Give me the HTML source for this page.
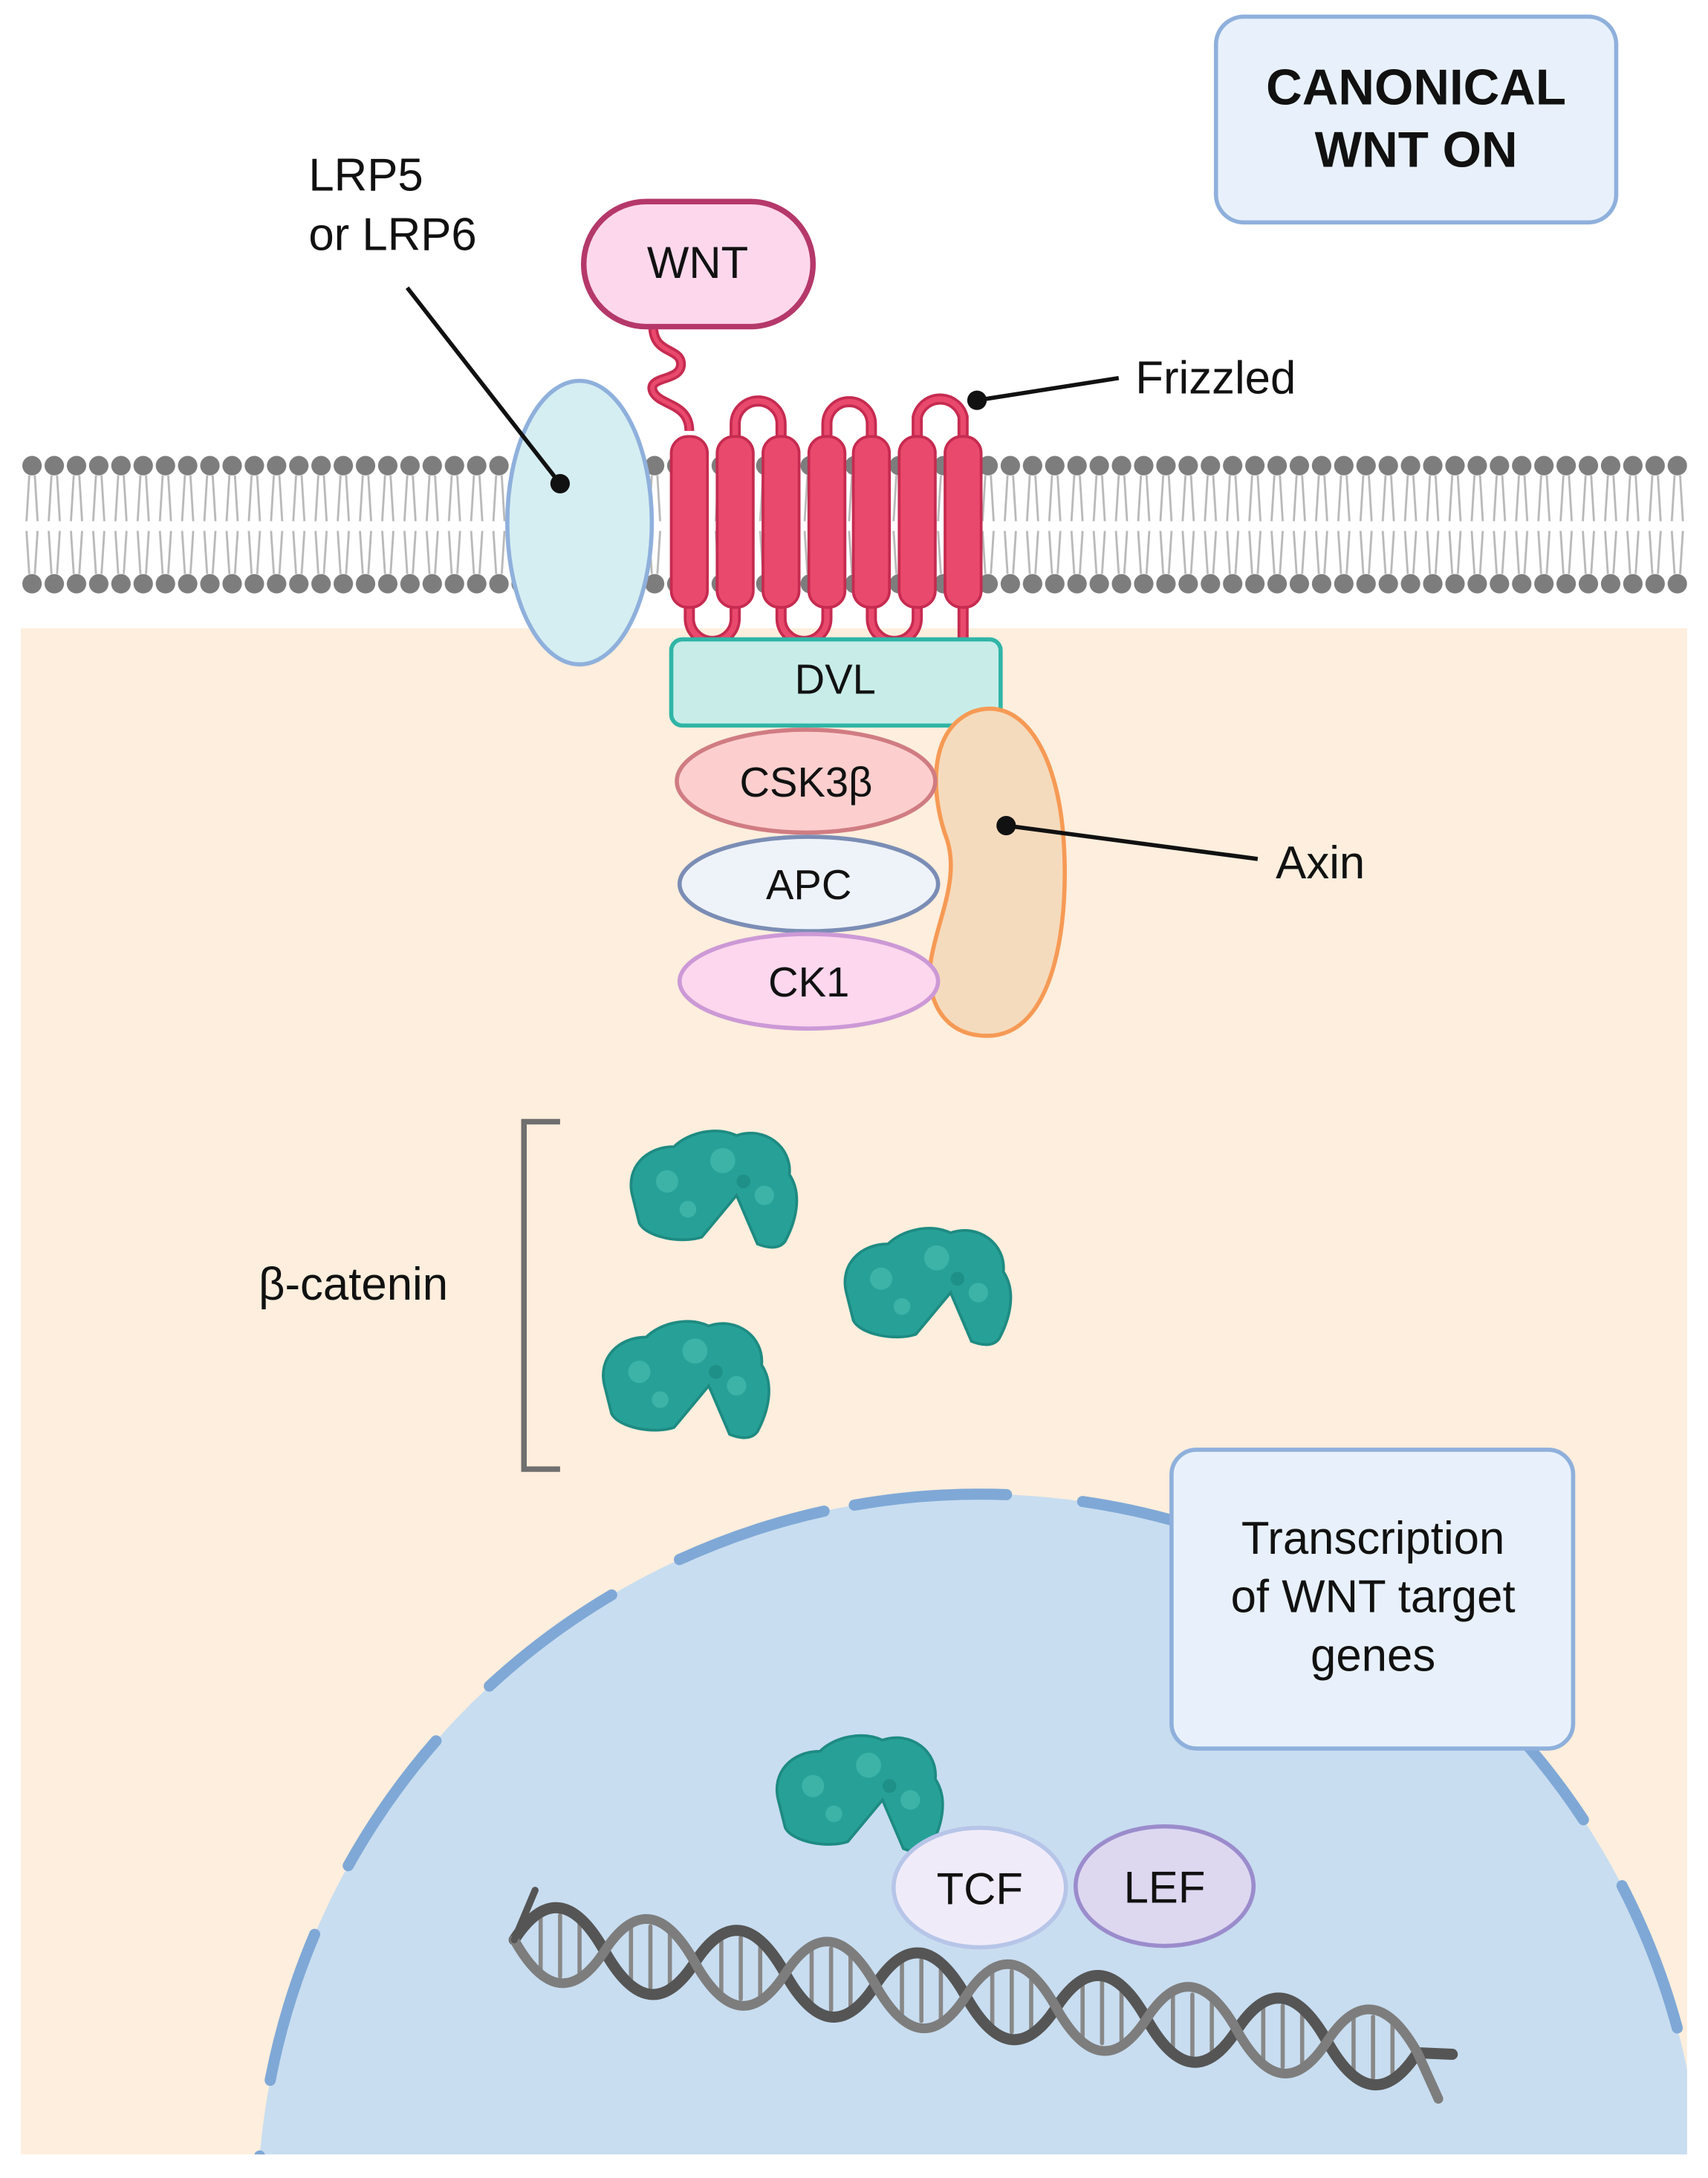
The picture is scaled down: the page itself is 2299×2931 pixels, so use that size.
<!DOCTYPE html>
<html><head><meta charset="utf-8"><style>
html,body{margin:0;padding:0;background:#fff;overflow:hidden;width:2299px;height:2931px}
svg{display:block}
text{font-family:"Liberation Sans",Arial,sans-serif;fill:#111}
</style></head><body>
<svg width="2299" height="2931" viewBox="0 0 1229 1567" xmlns="http://www.w3.org/2000/svg">
<defs>
<clipPath id="cyto"><rect x="15" y="452" width="1199" height="1098"/></clipPath>
<pattern id="mem" x="15" y="0" width="16" height="1567" patternUnits="userSpaceOnUse">
<circle cx="8" cy="335" r="7" fill="#7d7d7d"/>
<circle cx="8" cy="420" r="7" fill="#7d7d7d"/>
<path d="M6 342 L4 375 M10 342 L12 375 M4 382 L6 413 M12 382 L10 413" stroke="#b8b8b8" stroke-width="1.5" fill="none"/>
</pattern>
<g id="cat">
<path d="M-55 5 C-60 -15 -45 -30 -25 -30 C-15 -40 5 -45 20 -38 C40 -45 60 -30 58 -10 C68 5 62 25 55 38 C50 45 40 42 35 40 L20 5 L-5 35 C-20 40 -45 35 -50 25 Z" fill="#27a197" stroke="#1e8b82" stroke-width="2"/>
<circle cx="-30" cy="-5" r="8" fill="#3db3a8"/><circle cx="10" cy="-20" r="9" fill="#3db3a8"/><circle cx="40" cy="5" r="7" fill="#3db3a8"/><circle cx="-15" cy="15" r="6" fill="#3db3a8"/><circle cx="25" cy="-5" r="5" fill="#1f9088"/>
</g>
</defs>
<rect x="15" y="452" width="1199" height="1098" fill="#fdeedd"/>
<rect x="15" y="320" width="1199" height="110" fill="url(#mem)"/>
<g clip-path="url(#cyto)">
<circle cx="705" cy="1595" r="520" fill="#c8ddf0"/>
<circle cx="705" cy="1595" r="520" fill="none" stroke="#7fa8d6" stroke-width="8" stroke-dasharray="110 55" stroke-linecap="round" transform="rotate(-100 705 1595)"/>
</g>
<rect x="875" y="12" width="288" height="148" rx="20" fill="#e8f1fb" stroke="#8fb0dc" stroke-width="3"/>
<text x="1019" y="75" font-size="36" font-weight="bold" text-anchor="middle">CANONICAL</text>
<text x="1019" y="120" font-size="36" font-weight="bold" text-anchor="middle">WNT ON</text>
<text x="222" y="137" font-size="33">LRP5</text>
<text x="222" y="180" font-size="33">or LRP6</text>
<ellipse cx="417" cy="376" rx="52" ry="102" fill="#d5eef2" stroke="#8fb0dc" stroke-width="3"/>
<line x1="293" y1="207" x2="403" y2="348" stroke="#111" stroke-width="3"/>
<circle cx="403" cy="348" r="7" fill="#111"/>
<path d="M470 235 C470 255 490 250 490 262 C490 275 465 270 470 282 C475 292 496 290 496 310" fill="none" stroke="#c62b50" stroke-width="7"/>
<path d="M470 235 C470 255 490 250 490 262 C490 275 465 270 470 282 C475 292 496 290 496 310" fill="none" stroke="#e9496c" stroke-width="3"/>
<rect x="420" y="145" width="165" height="90" rx="45" fill="#fdd8ec" stroke="#b5386a" stroke-width="4"/>
<text x="502" y="200" font-size="32" text-anchor="middle">WNT</text>
<g fill="none" stroke="#c62b50" stroke-width="8">
<path d="M529 315 V305 A16 16 0 0 1 562 305 V315"/><path d="M595 315 V305 A16 16 0 0 1 627 305 V315"/><path d="M660 315 V300 A17 17 0 0 1 693 300 V315"/>
<path d="M496 435 V445 A16 16 0 0 0 529 445 V435"/><path d="M562 435 V445 A16 16 0 0 0 595 445 V435"/><path d="M627 435 V445 A16 16 0 0 0 660 445 V435"/><path d="M693 435 V462"/>
</g>
<g fill="none" stroke="#e9496c" stroke-width="4">
<path d="M529 315 V305 A16 16 0 0 1 562 305 V315"/><path d="M595 315 V305 A16 16 0 0 1 627 305 V315"/><path d="M660 315 V300 A17 17 0 0 1 693 300 V315"/>
<path d="M496 435 V445 A16 16 0 0 0 529 445 V435"/><path d="M562 435 V445 A16 16 0 0 0 595 445 V435"/><path d="M627 435 V445 A16 16 0 0 0 660 445 V435"/><path d="M693 435 V462"/>
</g>
<g fill="#e9496c" stroke="#c62b50" stroke-width="2">
<rect x="483" y="314" width="26" height="123" rx="12"/><rect x="516" y="314" width="26" height="123" rx="12"/><rect x="549" y="314" width="26" height="123" rx="12"/><rect x="582" y="314" width="26" height="123" rx="12"/><rect x="614" y="314" width="26" height="123" rx="12"/><rect x="647" y="314" width="26" height="123" rx="12"/><rect x="680" y="314" width="26" height="123" rx="12"/>
</g>
<line x1="703" y1="288" x2="805" y2="272" stroke="#111" stroke-width="3"/>
<circle cx="703" cy="288" r="7" fill="#111"/>
<text x="817" y="283" font-size="33">Frizzled</text>
<rect x="483" y="460" width="237" height="62" rx="8" fill="#c8ede8" stroke="#2fb5a6" stroke-width="3"/>
<text x="601" y="499" font-size="30" text-anchor="middle">DVL</text>
<path d="M700 512 C735 500 760 540 765 600 C770 660 760 740 715 745 C680 748 665 720 670 690 C675 660 692 630 680 600 C670 570 668 525 700 512 Z" fill="#f5dbbd" stroke="#f69a55" stroke-width="3"/>
<line x1="724" y1="594" x2="905" y2="618" stroke="#111" stroke-width="3"/>
<circle cx="724" cy="594" r="7" fill="#111"/>
<text x="918" y="632" font-size="33">Axin</text>
<ellipse cx="580" cy="562" rx="93" ry="37" fill="#fccfce" stroke="#d07c82" stroke-width="3"/>
<text x="580" y="573" font-size="30" text-anchor="middle">CSK3β</text>
<ellipse cx="582" cy="636" rx="93" ry="34" fill="#eef3f9" stroke="#7b8db5" stroke-width="3"/>
<text x="582" y="647" font-size="30" text-anchor="middle">APC</text>
<ellipse cx="582" cy="706" rx="93" ry="34" fill="#fdd7ee" stroke="#cc99d6" stroke-width="3"/>
<text x="582" y="717" font-size="30" text-anchor="middle">CK1</text>
<path d="M403 807 H377 V1057 H403" fill="none" stroke="#6f6f6f" stroke-width="4"/>
<text x="186" y="935" font-size="33">β-catenin</text>
<use href="#cat" x="510" y="855"/>
<use href="#cat" x="664" y="925"/>
<use href="#cat" x="490" y="992"/>
<use href="#cat" x="615" y="1290"/>
<rect x="843" y="1043" width="289" height="215" rx="18" fill="#e8f1fb" stroke="#8fb0dc" stroke-width="3"/>
<text x="988" y="1118" font-size="33" text-anchor="middle">Transcription</text>
<text x="988" y="1160" font-size="33" text-anchor="middle">of WNT target</text>
<text x="988" y="1202" font-size="33" text-anchor="middle">genes</text>
<g fill="none" stroke-linecap="round">
<g stroke="#888" stroke-width="3">
<path d="M389 1378V1422 M403 1378V1422 M417 1379V1423 M454 1386V1430 M468 1386V1430 M482 1387V1431 M519 1394V1438 M533 1394V1438 M547 1395V1439 M584 1402V1446 M598 1402V1446 M612 1403V1447 M649 1410V1454 M663 1410V1454 M677 1411V1455 M714 1418V1462 M728 1418V1462 M742 1419V1463 M779 1426V1470 M793 1426V1470 M807 1427V1471 M844 1434V1478 M858 1435V1479 M872 1435V1479 M909 1443V1487 M923 1443V1487 M937 1444V1488 M974 1451V1495 M988 1451V1495 M1002 1452V1496"/>
</g>
<path d="M370 1395.6 Q402.5 1345.7 435 1403.75 Q467.5 1461.8 500 1411.9 Q532.5 1362 565 1420 Q597.5 1478.1 630 1428.1 Q662.5 1378.2 695 1436.25 Q727.5 1494.3 760 1444.4 Q792.5 1394.5 825 1452.5 Q857.5 1510.6 890 1460.6 Q922.5 1410.7 955 1468.75 Q987.5 1526.8 1020 1476.9 L1045 1478" stroke="#555" stroke-width="8"/>
<path d="M370 1395.6 Q402.5 1453.7 435 1403.75 Q467.5 1353.8 500 1411.9 Q532.5 1470 565 1420 Q597.5 1370.1 630 1428.1 Q662.5 1486.2 695 1436.25 Q727.5 1386.3 760 1444.4 Q792.5 1502.5 825 1452.5 Q857.5 1402.6 890 1460.6 Q922.5 1518.7 955 1468.75 Q987.5 1418.8 1020 1476.9 L1035 1510" stroke="#7d7d7d" stroke-width="7"/>
<path d="M370 1395.6 L385 1360" stroke="#555" stroke-width="5"/>
</g>
<ellipse cx="705" cy="1358" rx="62" ry="43" fill="#f0ebf9" stroke="#b6c5e8" stroke-width="3"/>
<text x="705" y="1370" font-size="32" text-anchor="middle">TCF</text>
<ellipse cx="838" cy="1357" rx="64" ry="43" fill="#ddd8f0" stroke="#9b8ccc" stroke-width="3"/>
<text x="838" y="1369" font-size="32" text-anchor="middle">LEF</text>
</svg>
</body></html>
